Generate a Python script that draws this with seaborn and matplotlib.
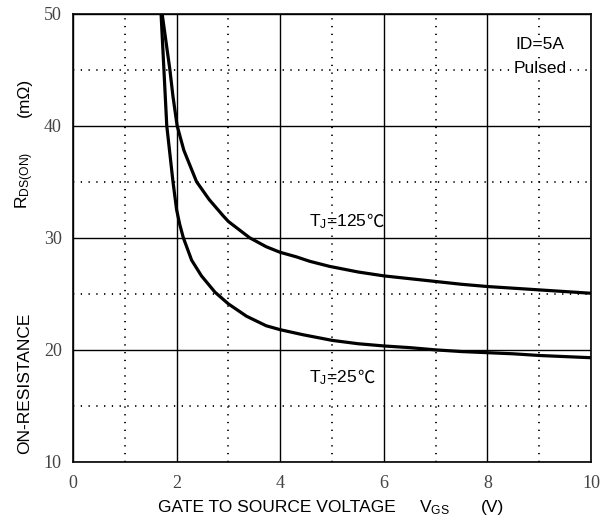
import matplotlib
matplotlib.use("Agg")
import matplotlib.pyplot as plt
import seaborn as sns
import pandas as pd
from matplotlib.offsetbox import TextArea, HPacker, AnnotationBbox

# ---- data ----
vgs_25 = [1.70, 1.755, 1.81, 1.87, 1.93, 2.0, 2.06, 2.13, 2.29, 2.48, 2.74, 3.0, 3.35, 3.73,
          4.0, 4.44, 5.0, 5.5, 6.0, 6.5, 7.0, 7.5, 8.0, 8.5, 9.0, 9.5, 10.0]
rds_25 = [50.0, 45.0, 40.0, 37.5, 35.0, 32.5, 31.2, 30.0, 28.0, 26.6, 25.15, 24.1, 23.0, 22.15,
          21.8, 21.35, 20.85, 20.55, 20.35, 20.2, 20.0, 19.85, 19.75, 19.65, 19.5, 19.4, 19.3]
vgs_125 = [1.72, 1.87, 1.93, 2.01, 2.14, 2.385, 2.63, 2.90, 3.0, 3.41, 3.73, 4.0, 4.31, 4.57,
           4.95, 5.5, 6.0, 6.5, 7.0, 7.5, 8.0, 8.5, 9.0, 9.5, 10.0]
rds_125 = [50.0, 45.0, 42.6, 40.0, 37.8, 35.0, 33.4, 31.95, 31.45, 30.0, 29.2, 28.7, 28.3, 27.9,
           27.45, 26.95, 26.6, 26.35, 26.1, 25.85, 25.65, 25.5, 25.35, 25.2, 25.05]
x_major = [0, 2, 4, 6, 8, 10]
x_minor = [1, 3, 5, 7, 9]
y_major = [10, 20, 30, 40, 50]
y_minor = [15, 25, 35, 45]
x_ticklabels = ["0", "2", "4", "6", "8", "10"]
y_ticklabels = ["10", "20", "30", "40", "50"]

df = pd.concat([
    pd.DataFrame({"VGS": vgs_25, "RDS": rds_25, "Tj": "25"}),
    pd.DataFrame({"VGS": vgs_125, "RDS": rds_125, "Tj": "125"}),
])

sns.set_theme(style="white")
plt.rcParams["font.family"] = ["Liberation Sans", "DejaVu Sans"]
plt.rcParams["mathtext.fontset"] = "custom"
plt.rcParams["mathtext.rm"] = "Liberation Sans"
plt.rcParams["text.color"] = "black"

fig = plt.figure(figsize=(6.12, 5.20), dpi=100)
ax = fig.add_axes([73 / 612, 1 - 462 / 520, 518 / 612, 448.5 / 520])

sns.lineplot(data=df, x="VGS", y="RDS", units="Tj", estimator=None, sort=False,
             color="black", lw=2.3, ax=ax, legend=False, zorder=3)
for ln in ax.lines:
    ln.set_solid_joinstyle("round")
    ln.set_solid_capstyle("round")

ax.set_xlim(0, 10)
ax.set_ylim(10, 50)
ax.set_xticks(x_major)
ax.set_xticks(x_minor, minor=True)
ax.set_yticks(y_major)
ax.set_yticks(y_minor, minor=True)
ax.set_xticklabels(x_ticklabels, family="Liberation Serif", fontsize=13, color="#444444")
ax.set_yticklabels(y_ticklabels, family="Liberation Serif", fontsize=13, color="#444444")
ax.tick_params(which="both", length=0)
ax.tick_params(axis="x", pad=9)
ax.tick_params(axis="y", pad=8)
ax.set_axisbelow(True)
ax.grid(which="major", color="black", lw=1.0, ls="-")
ax.grid(which="minor", color="black", lw=1.3, ls=(0, (0.7, 3.6)))
for s in ax.spines.values():
    s.set_color("black")
    s.set_linewidth(1.2)
ax.set_xlabel("")
ax.set_ylabel("")

fs = 12.5
# x axis label pieces
ax.text(0.394, -0.1115, "GATE TO SOURCE VOLTAGE", transform=ax.transAxes,
        ha="center", va="baseline", fontsize=fs)
ax.text(0.697, -0.1115, r"$\mathregular{V_{GS}}$", transform=ax.transAxes,
        ha="center", va="baseline", fontsize=fs)
ax.text(0.809, -0.1115, "(V)", transform=ax.transAxes,
        ha="center", va="baseline", fontsize=fs)
# y axis label pieces
ax.text(-0.093, 0.176, "ON-RESISTANCE", transform=ax.transAxes, rotation=90,
        ha="center", va="center", fontsize=fs)
ax.text(-0.093, 0.629, r"$\mathregular{R_{DS(ON)}}$", transform=ax.transAxes, rotation=90,
        ha="center", va="center", fontsize=fs)
ax.text(-0.093, 0.813, "(m\u03a9)", transform=ax.transAxes, rotation=90,
        ha="center", va="center", fontsize=fs)

def temp_label(x, y, num):
    a = TextArea(r"$\mathregular{T_J}$=" + num, textprops=dict(fontsize=fs, family="Liberation Sans", color="black"))
    b = TextArea("\u2103", textprops=dict(fontsize=fs, family="Noto Sans CJK SC", color="black"))
    pack = HPacker(children=[a, b], align="baseline", pad=0, sep=0)
    ab = AnnotationBbox(pack, (x, y), xycoords="data", frameon=False,
                        box_alignment=(0, 0.5), pad=0, zorder=5)
    ax.add_artist(ab)

temp_label(4.55, 31.4, "125")
temp_label(4.55, 17.5, "25")

bb = dict(facecolor="white", edgecolor="none", pad=1.0)
ax.text(9.02, 47.2, "ID=5A", ha="center", va="center", fontsize=fs, bbox=bb, zorder=5)
ax.text(9.02, 45.1, "Pulsed", ha="center", va="center", fontsize=fs, bbox=bb, zorder=5)

fig.savefig("out.png", dpi=100)
